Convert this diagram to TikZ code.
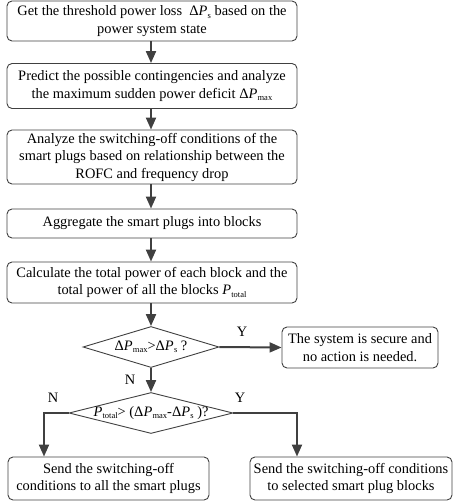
\documentclass[tikz,border=0pt]{standalone}
\usepackage{fontspec}
\setmainfont{Liberation Serif}
\usetikzlibrary{arrows.meta,shapes.geometric,calc}
\definecolor{lc}{HTML}{404040}
\newcommand{\PP}[1]{\textit{P}\kern0.3pt\raisebox{-0.35ex}{\fontsize{8.5}{8.5}\selectfont #1}}
\newcommand{\DP}[1]{Δ\PP{#1}}
\begin{document}
\begin{tikzpicture}[x=1pt,y=-1pt,
  box/.style={draw=lc, line width=0.9pt, rounded corners=5pt, align=center, inner sep=0pt, font=\fontsize{14.4}{17.5}\selectfont},
  dia/.style={draw=lc, line width=0.9pt, shape=diamond, inner sep=0pt},
  arr/.style={draw=lc, line width=2pt, -{Triangle[length=12pt,width=10pt]}},
  lab/.style={font=\fontsize{14.4}{17}\selectfont, inner sep=0pt}]
\useasboundingbox (0,0) rectangle (456,504);
\node[box, minimum width=290pt, minimum height=40pt] (b1) at (152,21) {Get the threshold power loss \ \DP{s} based on the\\power system state};
\node[box, minimum width=290pt, minimum height=45pt] (b2) at (152,86) {Predict the possible contingencies and analyze\\the maximum sudden power deficit \DP{max}};
\node[box, minimum width=290pt, minimum height=54pt] (b3) at (152,157) {Analyze the switching-off conditions of the\\smart plugs based on relationship between the\\ROFC and frequency drop};
\node[box, minimum width=290pt, minimum height=29pt] (b4) at (152,223.5) {Aggregate the smart plugs into blocks};
\node[box, minimum width=290pt, minimum height=41pt] (b5) at (152,282.5) {Calculate the total power of each block and the\\total power of all the blocks \PP{total}};
\node[dia, minimum width=136pt, minimum height=41pt,
  label={[lab]center:\DP{max}>\DP{s} ?}] (d1) at (151,347) {};
\node[box, minimum width=156pt, minimum height=41pt] (rb) at (360,347.5) {The system is secure and\\no action is needed.};
\node[dia, minimum width=164pt, minimum height=41pt,
  label={[lab]center:\PP{total}> (\DP{max}-\DP{s} )?}] (d2) at (151,413) {};
\node[box, minimum width=201pt, minimum height=43pt] (bl) at (108.5,478.5) {Send the switching-off\\conditions to all the smart plugs};
\node[box, minimum width=202pt, minimum height=43pt] (br) at (351,478.5) {Send the switching-off conditions\\to selected smart plug blocks};
\draw[arr] ([xshift=-1pt]b1.south) -- ([xshift=-1pt]b2.north);
\draw[arr] ([xshift=-1pt]b2.south) -- ([xshift=-1pt]b3.north);
\draw[arr] ([xshift=-1pt]b3.south) -- ([xshift=-1pt]b4.north);
\draw[arr] ([xshift=-1pt]b4.south) -- ([xshift=-1pt]b5.north);
\draw[arr] ([xshift=-1pt]b5.south) -- (d1.north);
\draw[arr] (d1.east) -- (rb.west);
\draw[arr] (d1.south) -- (d2.north);
\draw[arr] (d2.west) -| ([xshift=-64.5pt]bl.north);
\draw[arr] (d2.east) -| ([xshift=-54pt]br.north);
\node[lab] (ly1) at (242,332) {Y};
\node[lab] (ln1) at (130,380) {N};
\node[lab] (ln2) at (53,398) {N};
\node[lab] (ly2) at (240,398) {Y};
\end{tikzpicture}
\end{document}
